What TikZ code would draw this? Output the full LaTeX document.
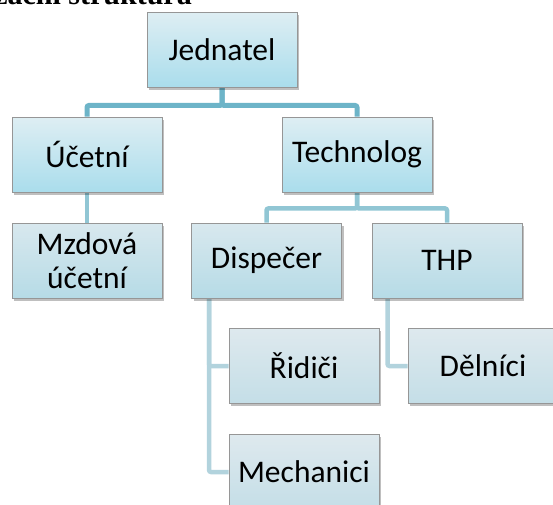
\documentclass[tikz,border=0pt]{standalone}
\usepackage{fontspec}
\setmainfont{Carlito}
\newfontfamily\titlefont{Liberation Serif}
\usetikzlibrary{shadows,backgrounds}
\definecolor{lineA}{RGB}{109,180,200}
\definecolor{lineB}{RGB}{145,198,212}
\definecolor{lineC}{RGB}{178,211,221}
\definecolor{boxAtop}{RGB}{222,238,243}
\definecolor{boxAbot}{RGB}{170,221,236}
\definecolor{boxBtop}{RGB}{216,232,238}
\definecolor{boxBbot}{RGB}{182,219,230}
\definecolor{boxCtop}{RGB}{222,233,238}
\definecolor{boxCbot}{RGB}{196,222,231}
\definecolor{boxborder}{RGB}{150,150,150}
\tikzset{
  orgbox/.style={draw=boxborder, line width=0.9pt, minimum width=150pt, minimum height=75pt,
    inner sep=2pt, align=center, font=\fontsize{31.5}{34}\selectfont,
    drop shadow={shadow xshift=2pt, shadow yshift=-2.5pt, opacity=0.25, fill=black}},
  levelA/.style={orgbox, top color=boxAtop, bottom color=boxAbot},
  levelB/.style={orgbox, top color=boxBtop, bottom color=boxBbot},
  levelC/.style={orgbox, top color=boxCtop, bottom color=boxCbot},
  connA/.style={draw=lineA, line width=5pt, rounded corners=2pt},
  connB/.style={draw=lineB, line width=4.5pt, rounded corners=2pt},
  connC/.style={draw=lineC, line width=4.5pt, rounded corners=2pt},
}
\begin{document}
\begin{tikzpicture}[x=1pt,y=-1pt]
\useasboundingbox (0,0) rectangle (553,504);
\clip (0,0) rectangle (553,504);
\node[anchor=base east, font=\titlefont\bfseries\fontsize{30}{34}\selectfont, inner sep=0pt] (title) at (192,4) {Organizační struktura};
\node[levelA] (J) at (222,49.5) {Jednatel};
\node[levelA] (U) at (87,154.5) {Účetní};
\node[levelA] (T) at (357,154.5) {Technolog};
\node[levelB] (M) at (87,260.5) {Mzdová\\účetní};
\node[levelB] (D) at (266.5,260.5) {Dispečer};
\node[levelB] (P) at (447,260.5) {THP};
\node[levelC] (R) at (304,366) {Řidiči};
\node[levelC] (Me) at (304,472) {Mechanici};
\node[levelC] (De) at (483,366) {Dělníci};
\coordinate (dv) at ([xshift=18pt]D.south west);
\coordinate (pv) at ([xshift=16pt]P.south west);
\begin{scope}[on background layer]
\draw[connA] (J.south) -- ++(0,18) -| (U.north);
\draw[connA] (J.south) -- ++(0,18) -| (T.north);
\draw[connB] (U.south) -- (M.north);
\draw[connB] (T.south) -- ++(0,16) -| (D.north);
\draw[connB] (T.south) -- ++(0,16) -| (P.north);
\draw[connC] (dv) |- (R.west);
\draw[connC] (dv) |- (Me.west);
\draw[connC] (pv) |- (De.west);
\end{scope}
\end{tikzpicture}
\end{document}
